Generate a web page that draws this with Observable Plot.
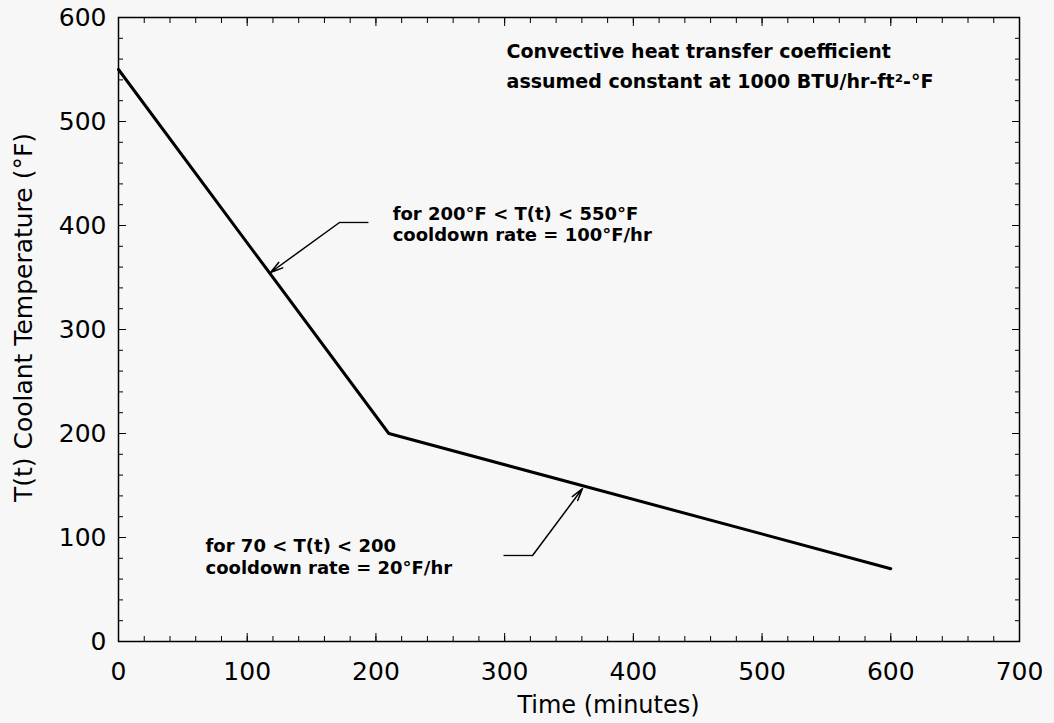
<!DOCTYPE html>
<html>
<head>
<meta charset="utf-8">
<script src="https://cdn.jsdelivr.net/npm/d3@7"></script>
<script src="https://cdn.jsdelivr.net/npm/@observablehq/plot@0.6"></script>
<style>
  html, body { margin: 0; padding: 0; background: #f7f7f7; }
</style>
</head>
<body>
<div id="chart"></div>
<script>
// Series: coolant temperature vs time
const timeMin = [0, 210, 600];
const tempF = [550, 200, 70];

// Tick values
const xMajor = [0, 100, 200, 300, 400, 500, 600, 700];
const yMajor = [0, 100, 200, 300, 400, 500, 600];
const xMinor = d3.range(0, 701, 20);
const yMinor = d3.range(0, 601, 20);

// Axis titles
const xTitle = "Time (minutes)";
const yTitle = "T(t) Coolant Temperature (°F)";

// Annotations
const headNote = "Convective heat transfer coefficient\nassumed constant at 1000 BTU/hr-ft²-°F";
const headNoteX = 301.5, headNoteY = 556;
const rateNotes = ["for 200°F < T(t) < 550°F\ncooldown rate = 100°F/hr", "for 70 < T(t) < 200\ncooldown rate = 20°F/hr"];
const rateNoteX = [213, 67.6];
const rateNoteY = [402, 82];
// leader lines: start -> bend -> arrow tip on curve
const leadStartX = [194.2, 299.1];
const leadBendX = [171.7, 321.7];
const leadY = [402.9, 82.7];
const tipX = [118.1, 360.5];
const tipY = [354.8, 147.1];

const series = timeMin.map((t, i) => ({t, T: tempF[i]}));
const notes = rateNotes.map((s, i) => ({s, x: rateNoteX[i], y: rateNoteY[i]}));
const leaders = leadY.map((y, i) => ({x0: leadStartX[i], x1: leadBendX[i], y, tx: tipX[i], ty: tipY[i]}));

const chart = Plot.plot({
  width: 1054,
  height: 723,
  marginLeft: 118,
  marginRight: 35,
  marginTop: 17,
  marginBottom: 82,
  x: {domain: [0, 700]},
  y: {domain: [0, 600]},
  style: {fontFamily: "DejaVu Sans", background: "#f7f7f7", color: "black"},
  marks: [
    // minor ticks, inward, all four sides
    Plot.axisX(xMinor, {anchor: "bottom", tickSize: -5, fill: "none", label: null, tickFormat: () => ""}),
    Plot.axisX(xMinor, {anchor: "top", tickSize: -5, fill: "none", label: null, tickFormat: () => ""}),
    Plot.axisY(yMinor, {anchor: "left", tickSize: -5, fill: "none", label: null, tickFormat: () => ""}),
    Plot.axisY(yMinor, {anchor: "right", tickSize: -5, fill: "none", label: null, tickFormat: () => ""}),
    // major ticks, inward
    Plot.axisX(xMajor, {anchor: "bottom", tickSize: -8, fill: "none", label: null, tickFormat: () => ""}),
    Plot.axisX(xMajor, {anchor: "top", tickSize: -8, fill: "none", label: null, tickFormat: () => ""}),
    Plot.axisY(yMajor, {anchor: "left", tickSize: -8, fill: "none", label: null, tickFormat: () => ""}),
    Plot.axisY(yMajor, {anchor: "right", tickSize: -8, fill: "none", label: null, tickFormat: () => ""}),
    // tick labels
    Plot.axisX(xMajor, {anchor: "bottom", tickSize: 0, tickPadding: 21, fontSize: 25, label: null, tickFormat: d => String(d)}),
    Plot.axisY(yMajor, {anchor: "left", tickSize: 0, tickPadding: 12, fontSize: 25, label: null, tickFormat: d => String(d)}),
    // frame
    Plot.frame({stroke: "black", strokeWidth: 1.5}),
    // axis titles
    Plot.text([xTitle], {text: d => d, frameAnchor: "bottom", textAnchor: "middle", dy: 64, dx: 39.5, fontSize: 24, lineAnchor: "middle"}),
    Plot.text([yTitle], {text: d => d, frameAnchor: "left", textAnchor: "middle", rotate: -90, dx: -95, dy: -12, fontSize: 25, lineAnchor: "middle"}),
    // curve
    Plot.line(series, {x: "t", y: "T", stroke: "black", strokeWidth: 3, strokeLinejoin: "round"}),
    // leaders
    Plot.link(leaders, {x1: "x0", y1: "y", x2: "x1", y2: "y", stroke: "black", strokeWidth: 1.3}),
    Plot.arrow(leaders, {x1: "x1", y1: "y", x2: "tx", y2: "ty", stroke: "black", strokeWidth: 1.5, headLength: 13, headAngle: 30}),
    // notes
    Plot.text(notes, {x: "x", y: "y", text: "s", textAnchor: "start", lineAnchor: "middle", fontSize: 18, fontWeight: "bold", lineHeight: 1.2, fill: "black"}),
    Plot.text([headNote], {x: () => headNoteX, y: () => headNoteY, text: d => d, textAnchor: "start", lineAnchor: "middle", fontSize: 19, fontWeight: "bold", lineHeight: 1.6, fill: "black"})
  ]
});
document.getElementById("chart").appendChild(chart);
</script>
</body>
</html>
